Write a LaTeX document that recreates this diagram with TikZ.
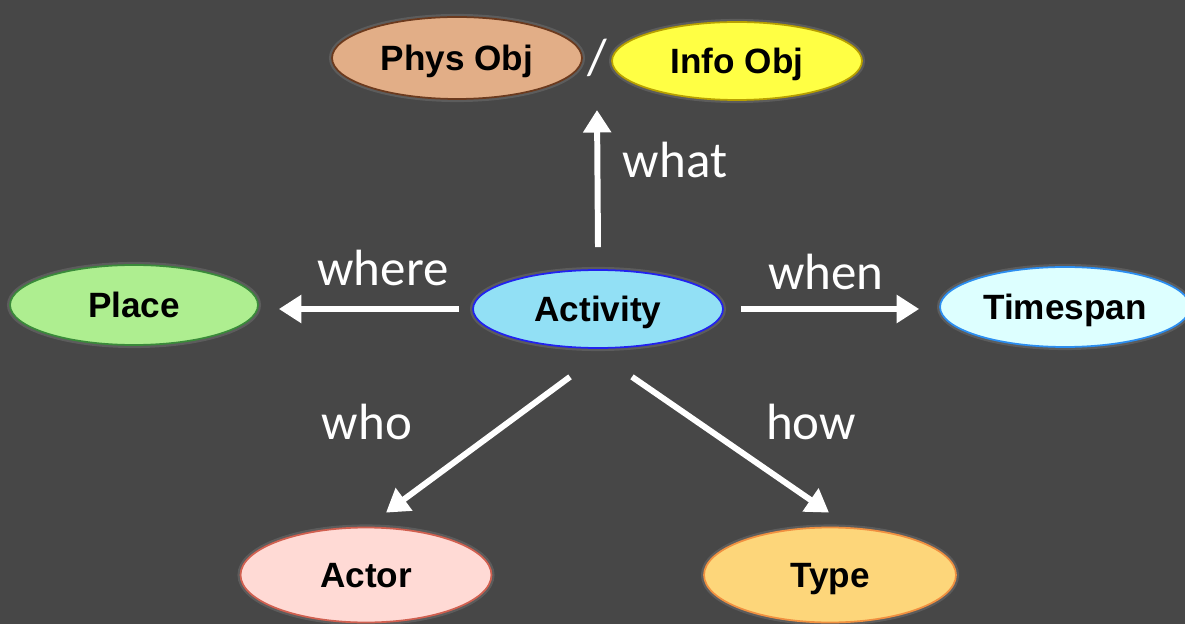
\documentclass[tikz,border=0pt]{standalone}
\usepackage{fontspec}
\setmainfont{Liberation Sans}
\newfontfamily\lblfont{Carlito}
\usetikzlibrary{shapes.geometric,arrows.meta}
\definecolor{bg}{HTML}{474747}
\definecolor{halo}{HTML}{5C5C5C}
\definecolor{physfill}{HTML}{E2AE87}\definecolor{physdraw}{HTML}{6B3A1E}
\definecolor{infofill}{HTML}{FFFF44}\definecolor{infodraw}{HTML}{B8A000}
\definecolor{actfill}{HTML}{92E0F5}\definecolor{actdraw}{HTML}{2222EE}
\definecolor{placefill}{HTML}{AEEE90}\definecolor{placedraw}{HTML}{3A8A3A}
\definecolor{timefill}{HTML}{DDFFFF}\definecolor{timedraw}{HTML}{2C8EF0}
\definecolor{actorfill}{HTML}{FFDAD5}\definecolor{actordraw}{HTML}{D06050}
\definecolor{typefill}{HTML}{FDD67A}\definecolor{typedraw}{HTML}{F09040}
\tikzset{
  ent/.style={ellipse, inner sep=0pt, line width=1pt, font=\fontsize{20}{22}\selectfont\bfseries, text=black,
    text height=14.3pt, text depth=0pt,
    preaction={draw=halo, line width=3.5pt}},
  lbl/.style={text=white, font=\lblfont\fontsize{29}{32}\selectfont, inner sep=0pt},
  arr/.style={draw=white, line width=3.4pt, -{Triangle[length=0.45cm,width=0.54cm]}},
}
\begin{document}
\begin{tikzpicture}[x=0.02cm,y=-0.02cm]
\fill[bg] (0,0) rectangle (1185,624);
\useasboundingbox (0,0) rectangle (1185,624);
\node[ent, fill=physfill, draw=physdraw, minimum width=5cm, minimum height=1.64cm] (phys) at (457,58) {Phys Obj};
\node[ent, fill=infofill, draw=infodraw, minimum width=5cm, minimum height=1.56cm] (info) at (737,61) {Info Obj};
\node[lbl] (slash) at (597,58) {/};
\node[ent, fill=actfill, draw=actdraw, minimum width=5cm, minimum height=1.56cm] (act) at (598,309) {Activity};
\node[ent, fill=placefill, draw=placedraw, minimum width=4.96cm, minimum height=1.6cm] (place) at (134,305) {Place};
\node[ent, fill=timefill, draw=timedraw, minimum width=5cm, minimum height=1.6cm] (time) at (1065,307) {Timespan};
\node[ent, fill=actorfill, draw=actordraw, minimum width=5.02cm, minimum height=1.9cm] (actor) at (366,575) {Actor};
\node[ent, fill=typefill, draw=typedraw, minimum width=5.04cm, minimum height=1.9cm] (type) at (830,575) {Type};
\draw[arr] ([yshift=0.44cm]act.north) -- ([yshift=-1.04cm]slash.center);
\draw[arr, shorten <=0.26cm, shorten >=0.4cm] (act.west) -- (act.west -| place.east);
\draw[arr, shorten <=0.34cm, shorten >=0.4cm] (act.east) -- (act.east -| time.west);
\draw[arr] ([xshift=-0.56cm,yshift=-0.56cm]act.south) -- ([xshift=0.4cm,yshift=0.28cm]actor.north);
\draw[arr] ([xshift=0.68cm,yshift=-0.56cm]act.south) -- ([xshift=-0.02cm,yshift=0.28cm]type.north);
\node[lbl] (lwhat) at (675,160) {what};
\node[lbl] (lwhere) at (383,268) {where};
\node[lbl] (lwhen) at (826,272) {when};
\node[lbl] (lwho) at (367,422) {who};
\node[lbl] (lhow) at (811,422) {how};
\end{tikzpicture}
\end{document}
